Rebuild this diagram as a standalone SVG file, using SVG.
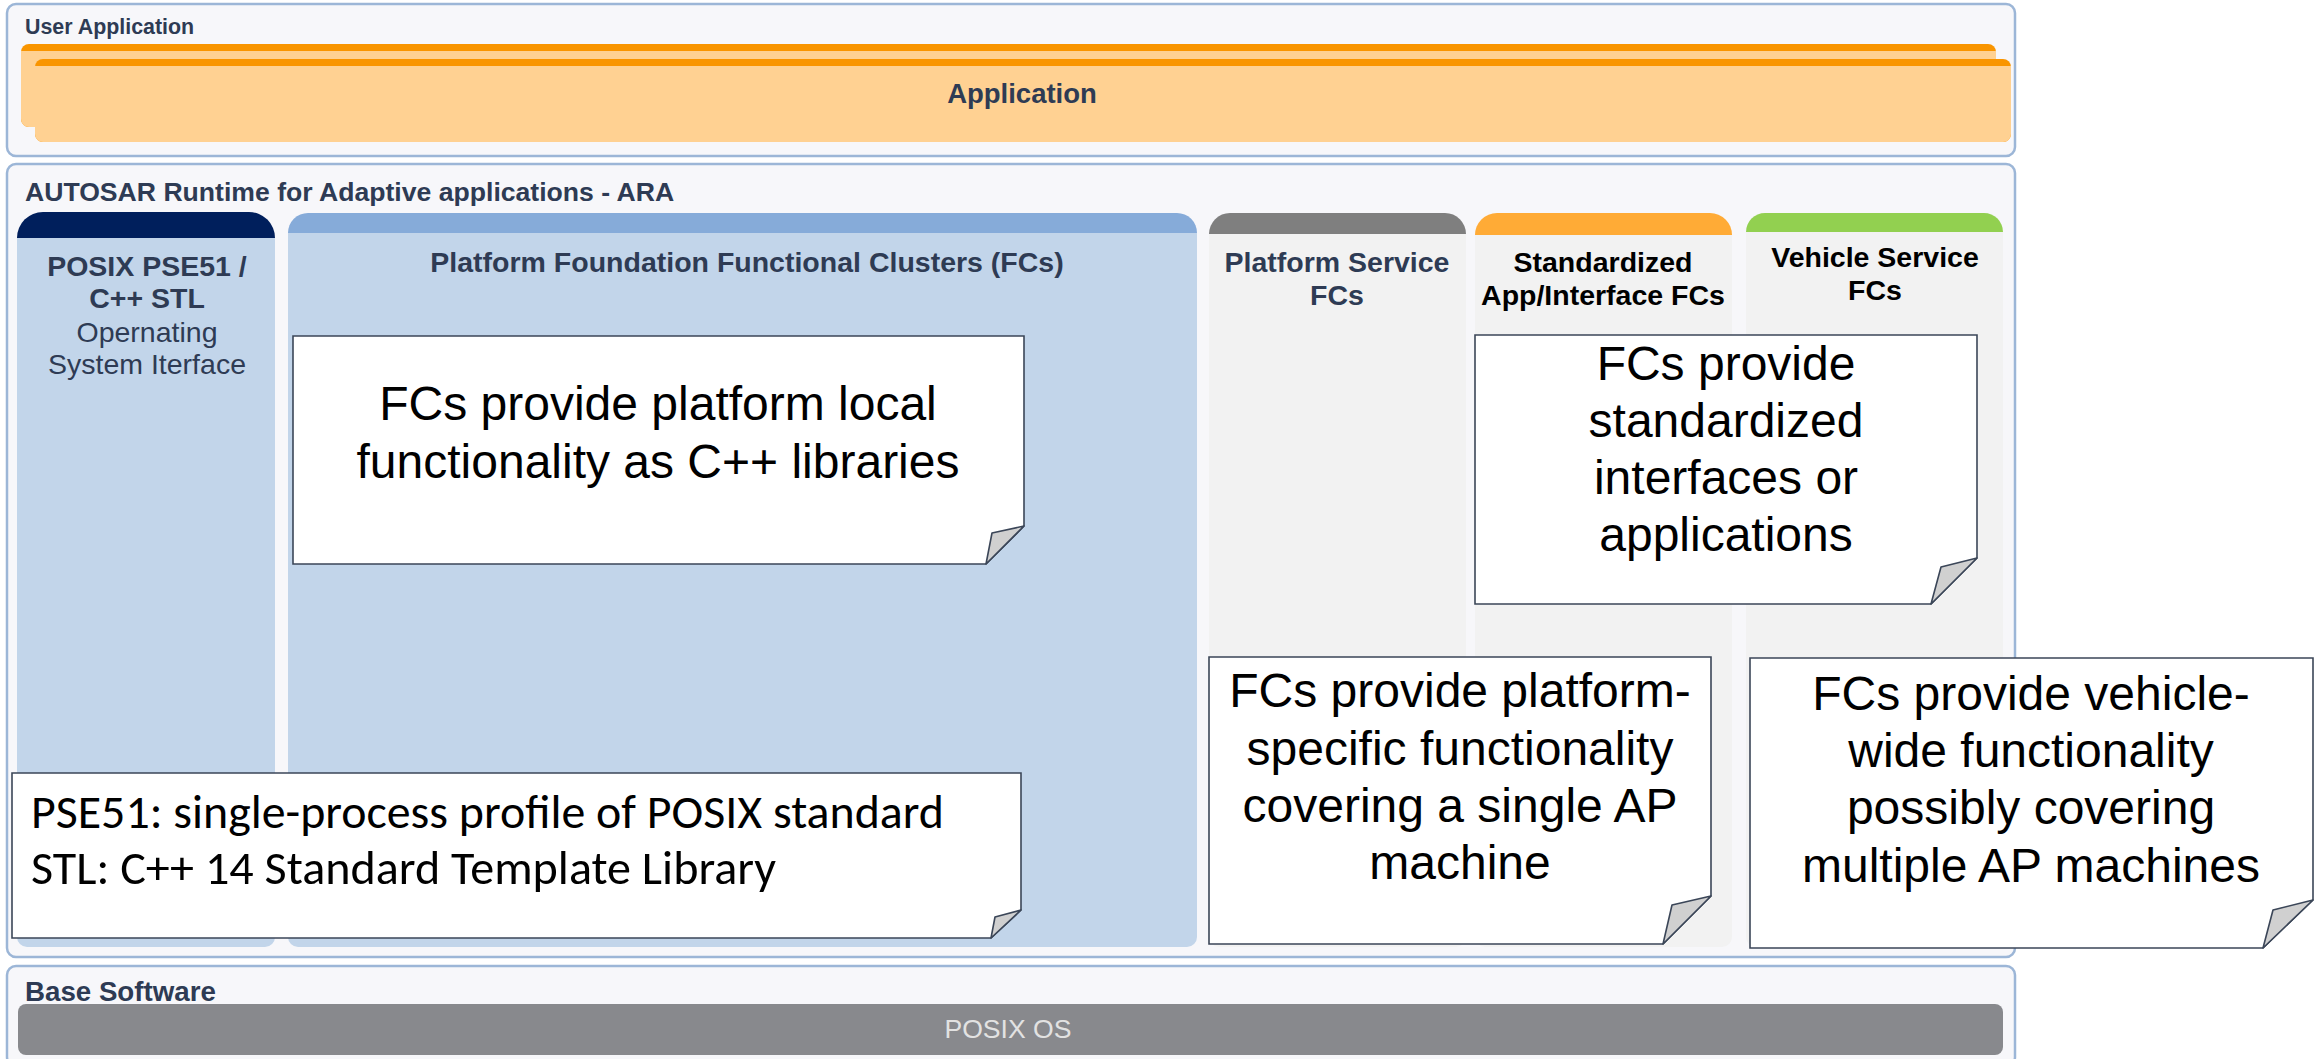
<svg xmlns="http://www.w3.org/2000/svg" width="2318" height="1059" viewBox="0 0 2318 1059">
<defs>
<style>
.panel{fill:#f7f7fa;stroke:#9cb6d7;stroke-width:2.5}
.ttl{font-family:"Liberation Sans",Arial,sans-serif;font-weight:bold;fill:#2e3b54}
.hdr{font-family:"Liberation Sans",Arial,sans-serif;font-weight:bold;font-size:28.5px;text-anchor:middle}
.reg{font-family:"Liberation Sans",Arial,sans-serif;font-size:28.5px;text-anchor:middle;fill:#2e3b54}
.slate{fill:#2e3b54}
.blk{fill:#000}
.blue{fill:#c2d5ea}
.grey{fill:#f2f2f2}
.note{fill:#fff;stroke:#3b4658;stroke-width:1.6}
.fold{fill:#d0d0d0;stroke:#3b4658;stroke-width:1.6;stroke-linejoin:round}
.nt{font-family:"Liberation Sans",Arial,sans-serif;font-size:48px;text-anchor:middle;fill:#000}
.cal{font-family:Carlito,Lato,"Liberation Sans",sans-serif;font-size:48px;fill:#000}
.orange{fill:#f99500}
.lorange{fill:#ffd192}
</style>
</defs>

<g id="user-application">
<rect class="panel" x="7" y="4" width="2008" height="152" rx="9"/>
<text class="ttl" x="25" y="34" font-size="21.4">User Application</text>
</g>

<g id="application">
<rect class="orange" x="21" y="44" width="1975" height="83" rx="8"/>
<path class="lorange" d="M21,51 H1996 V119 A8,8 0 0 1 1988,127 H29 A8,8 0 0 1 21,119 Z"/>
<rect class="orange" x="35" y="59" width="1976" height="83" rx="8"/>
<path class="lorange" d="M35,66 H2011 V134 A8,8 0 0 1 2003,142 H43 A8,8 0 0 1 35,134 Z"/>
<text class="ttl" x="1022" y="103" font-size="27.5" text-anchor="middle">Application</text>
</g>

<g id="ara">
<rect class="panel" x="7" y="164" width="2008" height="793" rx="9"/>
<text class="ttl" x="25" y="201" font-size="26.6">AUTOSAR Runtime for Adaptive applications - ARA</text>
</g>

<g id="posix-column">
<path d="M17,238 A26,26 0 0 1 43,212 H249 A26,26 0 0 1 275,238 Z" fill="#001f5c"/>
<path class="blue" d="M17,238 H275 V937 A10,10 0 0 1 265,947 H27 A10,10 0 0 1 17,937 Z"/>
<text class="hdr slate" x="147" y="276" font-size="29.5">POSIX PSE51 /</text>
<text class="hdr slate" x="147" y="308" font-size="29.5">C++ STL</text>
<text class="reg" x="147" y="342">Opernating</text>
<text class="reg" x="147" y="374">System Iterface</text>
</g>

<g id="platform-foundation">
<path d="M288,233 A20,20 0 0 1 308,213 H1177 A20,20 0 0 1 1197,233 Z" fill="#86abd9"/>
<path class="blue" d="M288,233 H1197 V937 A10,10 0 0 1 1187,947 H298 A10,10 0 0 1 288,937 Z"/>
<text class="hdr slate" x="747" y="272">Platform Foundation Functional Clusters (FCs)</text>
</g>

<g id="platform-service">
<path d="M1209,234 A21,21 0 0 1 1230,213 H1445 A21,21 0 0 1 1466,234 Z" fill="#7f7f7f"/>
<path class="grey" d="M1209,234 H1466 V937 A10,10 0 0 1 1456,947 H1219 A10,10 0 0 1 1209,937 Z"/>
<text class="hdr slate" x="1337" y="272">Platform Service</text>
<text class="hdr slate" x="1337" y="305">FCs</text>
</g>

<g id="standardized">
<path d="M1475,235 A22,22 0 0 1 1497,213 H1710 A22,22 0 0 1 1732,235 Z" fill="#ffab36"/>
<path class="grey" d="M1475,235 H1732 V937 A10,10 0 0 1 1722,947 H1485 A10,10 0 0 1 1475,937 Z"/>
<text class="hdr blk" x="1603" y="272">Standardized</text>
<text class="hdr blk" x="1603" y="305">App/Interface FCs</text>
</g>

<g id="vehicle-service">
<path d="M1746,232 A19,19 0 0 1 1765,213 H1984 A19,19 0 0 1 2003,232 Z" fill="#92d050"/>
<path class="grey" d="M1746,232 H2003 V937 A10,10 0 0 1 1993,947 H1756 A10,10 0 0 1 1746,937 Z"/>
<text class="hdr blk" x="1875" y="267">Vehicle Service</text>
<text class="hdr blk" x="1875" y="300">FCs</text>
</g>

<g id="base-software">
<rect class="panel" x="7" y="966" width="2008" height="100" rx="9"/>
<text class="ttl" x="25" y="1001" font-size="27.7">Base Software</text>
</g>

<g id="posix-os">
<rect x="18" y="1004" width="1985" height="51" rx="8" fill="#88898d"/>
<text x="1008" y="1038" font-family="Liberation Sans,Arial,sans-serif" font-size="26.6" fill="#e2e2e2" text-anchor="middle">POSIX OS</text>
</g>

<g id="connectors"></g>

<g id="note-foundation">
<polygon class="note" points="293,336 1024,336 1024,526 986,564 293,564"/>
<polygon class="fold" points="1024,526 986,564 992,533"/>
<text class="nt" x="658" y="420">FCs provide platform local</text>
<text class="nt" x="658" y="478">functionality as C++ libraries</text>
</g>

<g id="note-standardized">
<polygon class="note" points="1475,335 1977,335 1977,558 1931,604 1475,604"/>
<polygon class="fold" points="1977,558 1931,604 1941,567"/>
<text class="nt" x="1726" y="380">FCs provide</text>
<text class="nt" x="1726" y="437">standardized</text>
<text class="nt" x="1726" y="494">interfaces or</text>
<text class="nt" x="1726" y="551">applications</text>
</g>

<g id="note-platform-service">
<polygon class="note" points="1209,657 1711,657 1711,896 1663,944 1209,944"/>
<polygon class="fold" points="1711,896 1663,944 1672,905"/>
<text class="nt" x="1460" y="707">FCs provide platform-</text>
<text class="nt" x="1460" y="765">specific functionality</text>
<text class="nt" x="1460" y="822">covering a single AP</text>
<text class="nt" x="1460" y="879">machine</text>
</g>

<g id="note-vehicle">
<polygon class="note" points="1750,658 2313,658 2313,900 2263,948 1750,948"/>
<polygon class="fold" points="2313,900 2263,948 2273,910"/>
<text class="nt" x="2031" y="710">FCs provide vehicle-</text>
<text class="nt" x="2031" y="767">wide functionality</text>
<text class="nt" x="2031" y="824">possibly covering</text>
<text class="nt" x="2031" y="882">multiple AP machines</text>
</g>

<g id="note-pse51">
<polygon class="note" points="12,773 1021,773 1021,910 991,938 12,938"/>
<polygon class="fold" points="1021,910 991,938 995,917"/>
<text class="cal" x="31" y="828" textLength="913" lengthAdjust="spacingAndGlyphs">PSE51: single-process profile of POSIX standard</text>
<text class="cal" x="31" y="884" textLength="745" lengthAdjust="spacingAndGlyphs">STL: C++ 14 Standard Template Library</text>
</g>
</svg>
